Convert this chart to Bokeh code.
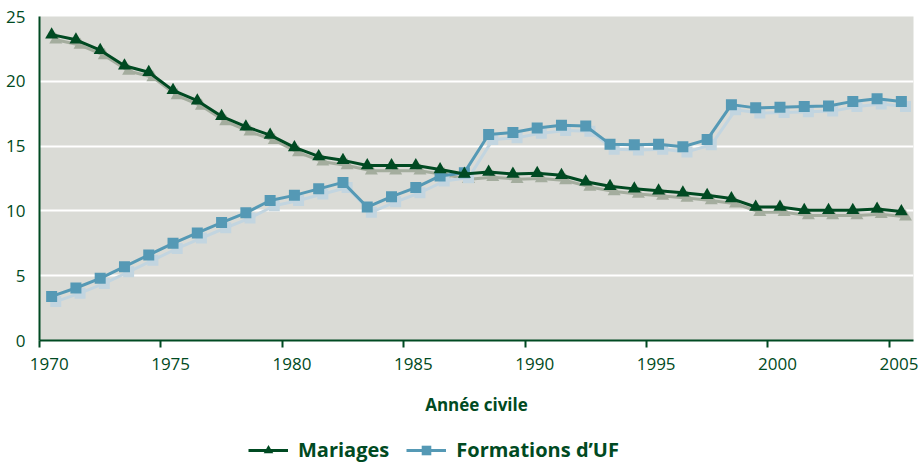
from bokeh.plotting import figure
from bokeh.models import (Range1d, FixedTicker, Legend, LegendItem,
                          CustomJSTickFormatter)
from bokeh.layouts import column
from bokeh.embed import file_html
from bokeh.resources import INLINE

years = list(range(1970, 2006))
mariages = [23.6, 23.2, 22.4, 21.2, 20.7, 19.3, 18.5, 17.3, 16.5, 15.85,
            14.9, 14.2, 13.9, 13.5, 13.5, 13.5, 13.2, 12.85, 13.0, 12.85,
            12.9, 12.75, 12.25, 11.9, 11.7, 11.55, 11.4, 11.2, 10.95, 10.3,
            10.3, 10.05, 10.05, 10.05, 10.15, 9.95]
formations = [3.4, 4.05, 4.8, 5.7, 6.6, 7.5, 8.3, 9.1, 9.85, 10.8,
              11.2, 11.7, 12.2, 10.3, 11.1, 11.8, 12.7, 12.95, 15.9, 16.05,
              16.4, 16.6, 16.55, 15.15, 15.1, 15.15, 14.95, 15.5, 18.2, 17.95,
              18.0, 18.05, 18.1, 18.45, 18.65, 18.45]
x_ticks = [1970, 1975, 1980, 1985, 1990, 1995, 2000, 2005]
y_ticks = [0, 5, 10, 15, 20, 25]

GREEN = "#004a22"
BLUE = "#5599b5"
GREEN_SH = "#a4ad9e"
BLUE_SH = "#c2d5e0"
BG = "#dadbd6"
FONT = "Open Sans"

p = figure(width=920, height=420, output_backend="svg", toolbar_location=None,
           x_range=Range1d(1970, 2006), y_range=Range1d(0, 25),
           min_border_left=39, min_border_right=7, min_border_top=16,
           min_border_bottom=80)
p.background_fill_color = BG
p.border_fill_color = "white"
p.outline_line_color = None

xs = [y + 0.5 for y in years]
# shadow (offset copy)
dx, dy = 0.17, 0.40
xs_sh = [x + dx for x in xs]
m_sh = [v - dy for v in mariages]
f_sh = [v - dy for v in formations]
p.line(xs_sh, m_sh, line_color=GREEN_SH, line_width=3)
p.scatter(xs_sh, m_sh, marker="triangle", size=13, fill_color=GREEN_SH, line_color=None)
p.line(xs_sh, f_sh, line_color=BLUE_SH, line_width=3)
p.scatter(xs_sh, f_sh, marker="square", size=11, fill_color=BLUE_SH, line_color=None)

p.line(xs, formations, line_color=BLUE, line_width=3)
p.scatter(xs, formations, marker="square", size=11, fill_color=BLUE, line_color=None)
p.line(xs, mariages, line_color=GREEN, line_width=3)
p.scatter(xs, mariages, marker="triangle", size=13, fill_color=GREEN, line_color=None)

# x axis: visible tick marks at the years (minor ticks), labels centred a bit right of them
xa = p.xaxis[0]
xa.ticker = FixedTicker(ticks=[t + 0.4 for t in x_ticks], minor_ticks=x_ticks)
xa.formatter = CustomJSTickFormatter(code="return Math.floor(tick).toString()")
xa.axis_line_color = GREEN
xa.axis_line_width = 2
xa.major_tick_line_color = None
xa.major_tick_out = 7
xa.major_tick_in = 0
xa.minor_tick_line_color = GREEN
xa.minor_tick_line_width = 2
xa.minor_tick_out = 7
xa.minor_tick_in = 0
xa.major_label_text_color = GREEN
xa.major_label_text_font = FONT
xa.major_label_text_font_size = "17px"
xa.major_label_standoff = 10
xa.axis_label = "Année civile"
xa.axis_label_text_font = FONT
xa.axis_label_text_font_style = "bold"
xa.axis_label_text_font_size = "17px"
xa.axis_label_text_color = GREEN
xa.axis_label_standoff = 20

ya = p.yaxis[0]
ya.ticker = FixedTicker(ticks=y_ticks)
ya.axis_line_color = GREEN
ya.axis_line_width = 2
ya.major_tick_line_color = None
ya.minor_tick_line_color = None
ya.major_label_text_color = GREEN
ya.major_label_text_font = FONT
ya.major_label_text_font_size = "17px"
ya.major_label_standoff = 8

p.xgrid.grid_line_color = None
p.ygrid.grid_line_color = "white"
p.ygrid.grid_line_width = 2

# legend strip (separate figure, series drawn out of view)
lg = figure(width=920, height=44, output_backend="svg", toolbar_location=None,
            x_range=Range1d(0, 1), y_range=Range1d(0, 1),
            x_axis_type=None, y_axis_type=None,
            min_border_left=0, min_border_right=0, min_border_top=0, min_border_bottom=0)
lg.outline_line_color = None
lg.xgrid.visible = False
lg.ygrid.visible = False
lm = lg.line(xs, mariages, line_color=GREEN, line_width=3)
sm = lg.scatter(xs, mariages, marker="triangle", size=13, fill_color=GREEN, line_color=None)
lf = lg.line(xs, formations, line_color=BLUE, line_width=3)
sf = lg.scatter(xs, formations, marker="square", size=11, fill_color=BLUE, line_color=None)

legend = Legend(items=[LegendItem(label="Mariages", renderers=[lm, sm]),
                       LegendItem(label="Formations d\u2019UF", renderers=[lf, sf])],
                orientation="horizontal", location=(209, 1))
legend.label_text_font = FONT
legend.label_text_font_style = "bold"
legend.label_text_font_size = "20px"
legend.label_text_color = GREEN
legend.glyph_width = 40
legend.glyph_height = 24
legend.label_standoff = 10
legend.border_line_color = None
legend.background_fill_alpha = 0
legend.spacing = 17
legend.margin = 0
legend.padding = 0
lg.add_layout(legend, "center")

layout = column(p, lg, spacing=0)
open("out.html", "w").write(file_html(layout, INLINE))
